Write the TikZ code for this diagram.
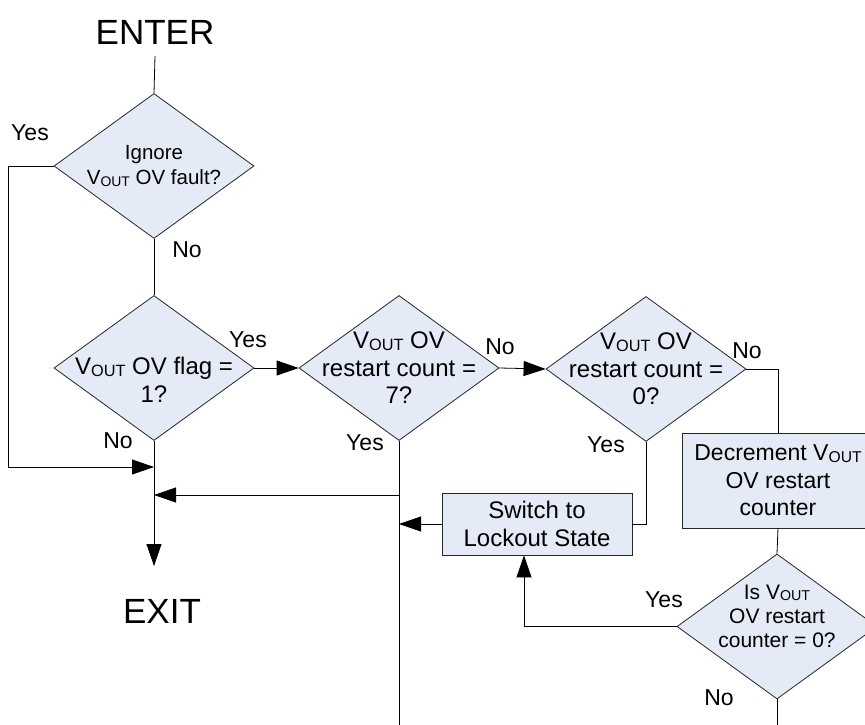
\documentclass[tikz,border=0pt]{standalone}
\usepackage{fontspec}
\setmainfont{Liberation Sans}
\usetikzlibrary{shapes.geometric,arrows.meta}
\definecolor{boxfill}{RGB}{229,235,246}
\newcommand\Vout{V\raisebox{-0.12ex}{\scalebox{0.68}{OUT}}}
\tikzset{
  dia/.style={diamond, draw=black!85, fill=boxfill, line width=0.8pt, inner sep=0pt,
    minimum width=200pt, minimum height=145pt},
  proc/.style={rectangle, draw=black!85, fill=boxfill, line width=0.8pt, inner sep=0pt,
    align=center, font=\fontsize{24}{28}\selectfont},
  txt/.style={align=center, inner sep=0pt},
  lbl/.style={inner sep=0pt, anchor=base, font=\fontsize{23}{26}\selectfont},
  big/.style={inner sep=0pt, anchor=base, font=\fontsize{35}{40}\selectfont},
  flow/.style={line width=0.8pt},
  arr/.style={flow, -{Triangle[length=22pt,width=15pt]}},
}
\begin{document}
\begin{tikzpicture}[x=1pt,y=-1pt]
\useasboundingbox (0,0) rectangle (865,725);
\clip (0,0) rectangle (865,725);

% terminals
\node[big] (enter) at (155,44.5) {ENTER};
\node[big] (exit) at (162,623) {EXIT};

% decisions
\node[dia] (d1) at (154,166) {};
\node[txt, font=\fontsize{20.5}{25}\selectfont] (t1) at (d1.center) {Ignore\\\Vout{} OV fault?};
\node[dia] (d2) at (154,368) {};
\node[txt, font=\fontsize{24}{28}\selectfont] (t2) at ([yshift=-12pt]d2.center) {\Vout{} OV flag =\\1?};
\node[dia] (d3) at (399,368) {};
\node[txt, font=\fontsize{24}{27.5}\selectfont] (t3) at (d3.center) {\Vout{} OV\\restart count =\\7?};
\node[dia] (d4) at (646,369) {};
\node[txt, font=\fontsize{24}{27.5}\selectfont] (t4) at (d4.center) {\Vout{} OV\\restart count =\\0?};
\node[dia] (d5) at (777,626.5) {};
\node[txt, font=\fontsize{21}{24}\selectfont] (t5) at ([yshift=10pt]d5.center) {Is \Vout\\OV restart\\counter = 0?};

% processes
\node[proc, minimum width=192pt, minimum height=95pt, font=\fontsize{23}{27.5}\selectfont] (dec) at (778,480.5) {Decrement \Vout\\OV restart\\counter};
\node[proc, minimum width=190pt, minimum height=62pt] (lock) at (537,524) {Switch to\\Lockout State};

% branch labels
\node[lbl] (y1) at (30,140) {Yes};
\node[lbl] (n1) at (187,257) {No};
\node[lbl] (y2) at (248,347) {Yes};
\node[lbl] (n2) at (118,448) {No};
\node[lbl] (n3) at (500,354) {No};
\node[lbl] (y3) at (365,450) {Yes};
\node[lbl] (n4) at (747,358) {No};
\node[lbl] (y4) at (606,452) {Yes};
\node[lbl] (y5) at (664,607) {Yes};
\node[lbl] (n5) at (719,705) {No};

% junction points
\coordinate (lcorner) at (8,467);
\coordinate (jin) at (154,467);
\coordinate (jret) at (154,495);
\coordinate (exitarr) at (154,566);
\coordinate (bot3) at (399,735);
\coordinate (bot5) at (777,735);

% connectors
\draw[flow] ([yshift=-11.5pt]enter.base) -- (d1.north);
\draw[flow] (d1.south) -- (d2.north);
\draw[arr] (d1.west) -| (lcorner) -- (jin);
\draw[arr] (d2.south) -- (exitarr);
\draw[arr] (d2.east) -- (d3.west);
\draw[arr] (d3.east) -- (d4.west);
\draw[flow] (d4.east) -| (dec.north);
\draw[flow] (dec.south) -- (d5.north);
\draw[flow] (d5.south) -- (bot5);
\draw[arr] (d5.west) -| ([xshift=-13pt]lock.south);
\draw[flow] (d4.south) |- (lock.east);
\draw[arr] (lock.west) -- (lock.west -| d3.south);
\draw[flow] (d3.south) -- (bot3);
\draw[arr] (d3.south |- jret) -- (jret);
\end{tikzpicture}
\end{document}
